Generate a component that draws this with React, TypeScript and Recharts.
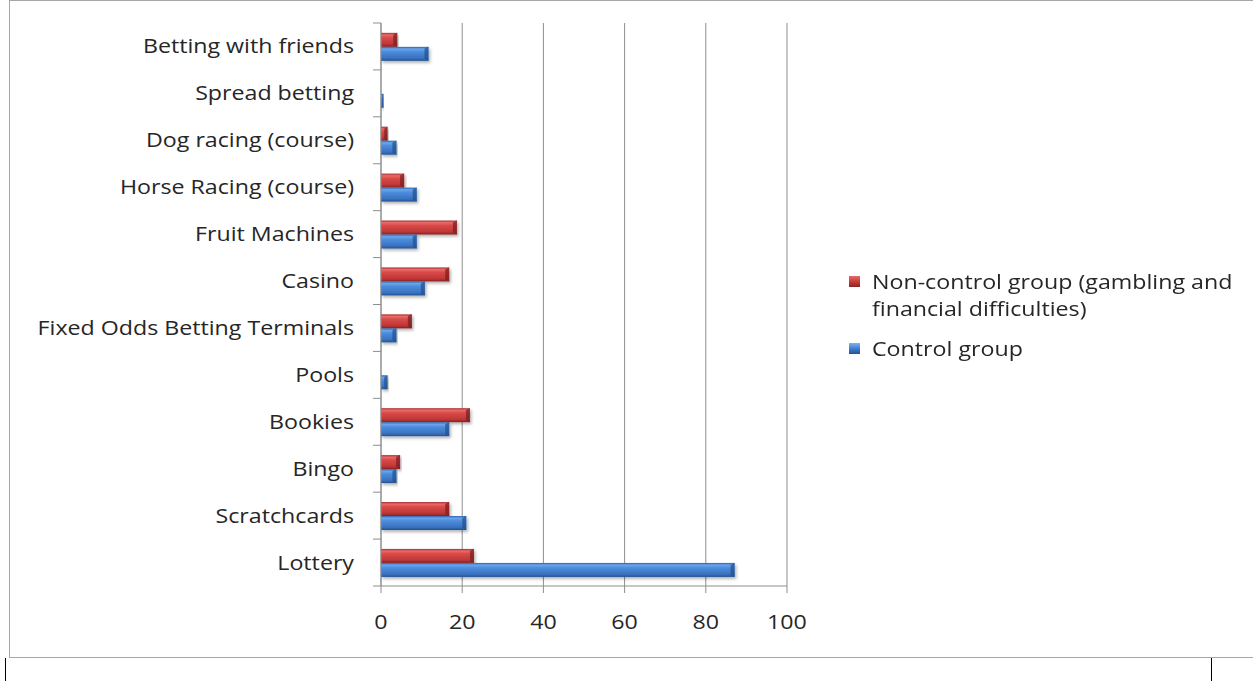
import { BarChart, Bar, XAxis, YAxis, CartesianGrid } from 'recharts';

const categories = [
  'Betting with friends',
  'Spread betting',
  'Dog racing (course)',
  'Horse Racing (course)',
  'Fruit Machines',
  'Casino',
  'Fixed Odds Betting Terminals',
  'Pools',
  'Bookies',
  'Bingo',
  'Scratchcards',
  'Lottery',
];
const nonControl = [4, 0, 1.6, 5.7, 18.7, 16.8, 7.6, 0, 21.9, 4.7, 16.8, 22.9];
const control = [11.7, 0.6, 3.8, 8.8, 8.8, 10.8, 3.8, 1.6, 16.8, 3.8, 21, 87.1];
const xTicks = [0, 20, 40, 60, 80, 100];

const legendItems = [
  { lines: ['Non-control group (gambling and', 'financial difficulties)'], grad: 'gradRedL' },
  { lines: ['Control group'], grad: 'gradBlueL' },
];

const data = categories.map((name, i) => ({
  name,
  nonControl: nonControl[i],
  control: control[i],
}));

const W = 1253;
const H = 657;
const X_AXIS_H = 71;
const MARGIN = { top: 23, right: 466, bottom: 0, left: 0 };
const Y_AXIS_W = 381;
const BAND = (H - MARGIN.top - MARGIN.bottom - X_AXIS_H) / categories.length;
const FONT = '"Open Sans", sans-serif';
const FONT_SIZE = 20;
const STRETCH = 1.16; // the wide label face
const TEXT = '#262626';
const AXIS_GRAY = '#8e8e8e';

// category labels with tick marks on the band boundaries, Excel-style
const CategoryTick = ({ x, y, payload, index }: any) => {
  const lx = x + 19;
  return (
    <g>
      <line x1={lx} x2={lx + 8} y1={y + BAND / 2} y2={y + BAND / 2} stroke={AXIS_GRAY} />
      {index === 0 && <line x1={lx} x2={lx + 8} y1={y - BAND / 2} y2={y - BAND / 2} stroke={AXIS_GRAY} />}
      <text
        transform={`translate(${x},${y}) scale(${STRETCH},1)`}
        dy={7}
        textAnchor="end"
        fontSize={FONT_SIZE}
        fontFamily={FONT}
        fill={TEXT}
      >
        {payload.value}
      </text>
    </g>
  );
};

const ValueTick = ({ x, y, payload }: any) => (
  <text
    transform={`translate(${x},${y}) scale(${STRETCH},1)`}
    dy={22}
    textAnchor="middle"
    fontSize={FONT_SIZE}
    fontFamily={FONT}
    fill={TEXT}
  >
    {payload.value}
  </text>
);

const BevelBar = ({ x, y, width, height, dataKey }: any) => {
  if (!width || width <= 0) return null;
  const id = dataKey === 'control' ? 'gradBlue' : 'gradRed';
  const edge = dataKey === 'control' ? '#23528f' : '#7e2020';
  const cap = Math.min(4, width / 2);
  return (
    <g filter="url(#barShadow)">
      <rect x={x} y={y} width={width} height={height} fill={`url(#${id})`} />
      <polygon
        points={`${x + width - cap},${y + 2} ${x + width},${y} ${x + width},${y + height} ${x + width - cap},${y + height - 2}`}
        fill={edge}
        opacity={0.75}
      />
    </g>
  );
};

const ChartLegend = () => (
  <div
    style={{
      position: 'absolute',
      left: 849,
      top: 268,
      width: 400,
      fontFamily: FONT,
      fontSize: FONT_SIZE,
      color: TEXT,
      lineHeight: '27px',
    }}
  >
    <svg width={0} height={0} style={{ position: 'absolute' }}>
      <defs>
        <linearGradient id="gradRedL" x1="0" y1="0" x2="0" y2="1">
          <stop offset="0" stopColor="#e66a68" />
          <stop offset="0.5" stopColor="#c83c3a" />
          <stop offset="1" stopColor="#8a2523" />
        </linearGradient>
        <linearGradient id="gradBlueL" x1="0" y1="0" x2="0" y2="1">
          <stop offset="0" stopColor="#7fb2ee" />
          <stop offset="0.5" stopColor="#3f7fd0" />
          <stop offset="1" stopColor="#24528f" />
        </linearGradient>
      </defs>
    </svg>
    {legendItems.map((it, i) => (
      <div key={i} style={{ display: 'flex', alignItems: 'flex-start', marginBottom: 13 }}>
        <svg width={12} height={12} style={{ marginTop: 8, marginRight: 11, flexShrink: 0 }}>
          <rect x={0} y={0} width={11} height={11} fill={`url(#${it.grad})`} />
        </svg>
        <div style={{ transform: `scaleX(${STRETCH})`, transformOrigin: 'left center' }}>
          {it.lines.map((l, j) => (
            <div key={j} style={{ whiteSpace: 'nowrap' }}>{l}</div>
          ))}
        </div>
      </div>
    ))}
  </div>
);

export default function App() {
  return (
    <div style={{ position: 'absolute', left: 0, top: 0, width: W, height: 681, background: '#fff', overflow: 'hidden' }}>
      <div
        style={{
          position: 'absolute',
          left: 9,
          top: 0,
          width: W + 20,
          height: H + 1,
          border: '1px solid #a6a6a6',
          boxSizing: 'border-box',
        }}
      />
      <div style={{ position: 'absolute', left: 5, top: 658, width: 1, height: 23, background: '#000' }} />
      <div style={{ position: 'absolute', left: 1211, top: 658, width: 1, height: 23, background: '#000' }} />
      <div style={{ position: 'absolute', left: 0, top: 0 }}>
        <BarChart
          width={W}
          height={H}
          data={data}
          layout="vertical"
          margin={MARGIN}
          barCategoryGap="21%"
          barGap={0}
        >
          <defs>
            <linearGradient id="gradRed" x1="0" y1="0" x2="0" y2="1">
              <stop offset="0" stopColor="#a83030" />
              <stop offset="0.15" stopColor="#ea6a68" />
              <stop offset="0.35" stopColor="#d84a48" />
              <stop offset="0.8" stopColor="#bf3636" />
              <stop offset="1" stopColor="#862222" />
            </linearGradient>
            <linearGradient id="gradBlue" x1="0" y1="0" x2="0" y2="1">
              <stop offset="0" stopColor="#2f63a8" />
              <stop offset="0.15" stopColor="#6aa6ee" />
              <stop offset="0.35" stopColor="#4d8cdc" />
              <stop offset="0.8" stopColor="#3a72c0" />
              <stop offset="1" stopColor="#23528f" />
            </linearGradient>
            <filter id="barShadow" x="-5%" y="-30%" width="115%" height="180%">
              <feDropShadow dx="1.5" dy="2" stdDeviation="1.5" floodColor="#000" floodOpacity="0.3" />
            </filter>
          </defs>
          <CartesianGrid horizontal={false} stroke={AXIS_GRAY} />
          <XAxis
            type="number"
            domain={[0, 100]}
            ticks={xTicks}
            height={X_AXIS_H}
            stroke={AXIS_GRAY}
            tickSize={7}
            tickMargin={14}
            tick={<ValueTick />}
          />
          <YAxis
            type="category"
            dataKey="name"
            width={Y_AXIS_W}
            stroke={AXIS_GRAY}
            tickLine={false}
            tickSize={8}
            tickMargin={19}
            interval={0}
            tick={<CategoryTick />}
          />
          <Bar dataKey="nonControl" shape={<BevelBar />} isAnimationActive={false} />
          <Bar dataKey="control" shape={<BevelBar />} isAnimationActive={false} />
        </BarChart>
      </div>
      <ChartLegend />
    </div>
  );
}
